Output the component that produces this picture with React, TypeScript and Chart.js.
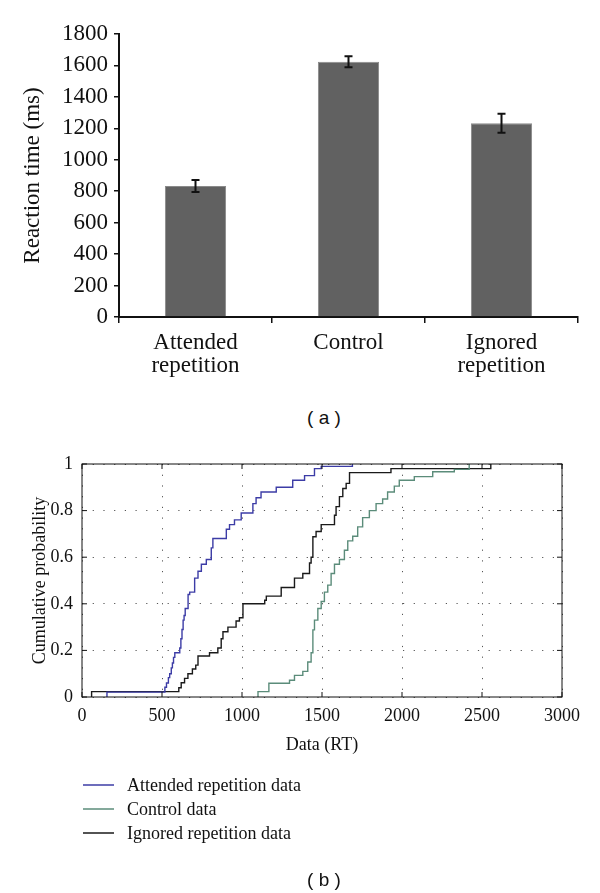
import React, { useEffect, useRef } from 'react';
import { Chart, registerables } from 'chart.js';

Chart.register(...registerables);

// ---------- (a) bar chart data ----------
const barCategories: (string | string[])[] = [['Attended', 'repetition'], 'Control', ['Ignored', 'repetition']];
const barMeans = [833, 1624, 1232];
const barErrors = [38, 35, 60];
const barYTicks = [0, 200, 400, 600, 800, 1000, 1200, 1400, 1600, 1800];

// ---------- (b) empirical CDF data (step points) ----------
const attendedRT = [156, 156, 518, 528, 540, 548, 558, 565, 572, 580, 611, 618, 625, 632, 638, 645, 663, 673, 704, 725, 746, 777, 808, 818, 902, 922, 953, 995, 1068, 1088, 1119, 1214, 1317, 1391, 1453, 1495, 1690];
const attendedP = [0, 0.021, 0.042, 0.06, 0.083, 0.1, 0.125, 0.146, 0.17, 0.19, 0.21, 0.25, 0.29, 0.33, 0.35, 0.38, 0.44, 0.45, 0.51, 0.54, 0.57, 0.59, 0.64, 0.68, 0.72, 0.74, 0.76, 0.79, 0.83, 0.855, 0.88, 0.9, 0.93, 0.95, 0.98, 0.99, 1.0];

const controlRT = [1100, 1100, 1168, 1297, 1328, 1380, 1411, 1432, 1443, 1453, 1474, 1495, 1515, 1536, 1557, 1578, 1609, 1640, 1661, 1692, 1723, 1754, 1796, 1838, 1879, 1910, 1952, 1983, 2077, 2192, 2327, 2420];
const controlP = [0, 0.023, 0.059, 0.072, 0.093, 0.11, 0.15, 0.19, 0.288, 0.33, 0.38, 0.41, 0.45, 0.48, 0.53, 0.57, 0.59, 0.63, 0.67, 0.69, 0.73, 0.77, 0.8, 0.83, 0.85, 0.88, 0.905, 0.93, 0.946, 0.967, 0.977, 1.0];

const ignoredRT = [60, 60, 605, 620, 641, 662, 690, 711, 725, 797, 849, 870, 881, 912, 963, 984, 1006, 1142, 1152, 1245, 1328, 1380, 1422, 1432, 1443, 1463, 1495, 1578, 1588, 1609, 1630, 1651, 1672, 1931, 2555];
const ignoredP = [0, 0.023, 0.04, 0.061, 0.08, 0.1, 0.12, 0.137, 0.176, 0.19, 0.21, 0.25, 0.28, 0.3, 0.326, 0.34, 0.4, 0.415, 0.433, 0.47, 0.51, 0.53, 0.575, 0.6, 0.688, 0.71, 0.74, 0.78, 0.817, 0.86, 0.895, 0.917, 0.963, 0.98, 1.0];

const cdfLabels = ['Attended repetition data', 'Control data', 'Ignored repetition data'];
const cdfColors = ['#3c3ca6', '#5b8c7a', '#1a1a1a'];
const cdfXTicks = [0, 500, 1000, 1500, 2000, 2500, 3000];
const cdfYTicks = [0, 0.2, 0.4, 0.6, 0.8, 1];

const SERIF = "'Liberation Serif', 'Times New Roman', serif";
const A_FONT = 23;
const B_FONT = 18;

const toPts = (xs: number[], ps: number[]) => xs.map((x, i) => ({ x, y: ps[i] }));
const plain = (v: any) => String(Number(Number(v).toFixed(2)));

const errorBarPlugin = {
  id: 'errorBars',
  afterDatasetsDraw(chart: any) {
    const meta = chart.getDatasetMeta(0);
    const y = chart.scales.y;
    const ctx = chart.ctx;
    ctx.save();
    ctx.strokeStyle = '#111';
    ctx.lineWidth = 2;
    meta.data.forEach((bar: any, i: number) => {
      const top = y.getPixelForValue(barMeans[i] + barErrors[i]);
      const bot = y.getPixelForValue(barMeans[i] - barErrors[i]);
      ctx.beginPath();
      ctx.moveTo(bar.x, top);
      ctx.lineTo(bar.x, bot);
      ctx.moveTo(bar.x - 4, top);
      ctx.lineTo(bar.x + 4, top);
      ctx.moveTo(bar.x - 4, bot);
      ctx.lineTo(bar.x + 4, bot);
      ctx.stroke();
    });
    ctx.restore();
  },
};

const boxLegendPlugin = {
  id: 'boxLegend',
  afterDraw(chart: any) {
    const { ctx, chartArea: a, scales } = chart;
    ctx.save();
    ctx.strokeStyle = '#111';
    ctx.lineWidth = 1;
    ctx.strokeRect(a.left, a.top, a.right - a.left, a.bottom - a.top);
    ctx.beginPath();
    cdfXTicks.forEach((v) => {
      const x = scales.x.getPixelForValue(v);
      ctx.moveTo(x, a.bottom);
      ctx.lineTo(x, a.bottom - 5);
      ctx.moveTo(x, a.top);
      ctx.lineTo(x, a.top + 5);
    });
    cdfYTicks.forEach((v) => {
      const y = scales.y.getPixelForValue(v);
      ctx.moveTo(a.left, y);
      ctx.lineTo(a.left + 5, y);
      ctx.moveTo(a.right, y);
      ctx.lineTo(a.right - 5, y);
    });
    ctx.stroke();
    // legend
    ctx.font = `${B_FONT}px ${SERIF}`;
    ctx.textBaseline = 'middle';
    ctx.textAlign = 'left';
    chart.data.datasets.forEach((ds: any, i: number) => {
      const yy = a.bottom + 88 + i * 24;
      ctx.strokeStyle = ds.borderColor;
      ctx.lineWidth = 1.5;
      ctx.beginPath();
      ctx.moveTo(a.left + 1, yy);
      ctx.lineTo(a.left + 32, yy);
      ctx.stroke();
      ctx.fillStyle = '#111';
      ctx.fillText(ds.label, a.left + 45, yy + 1);
    });
    ctx.restore();
  },
};

export default function App() {
  const aRef = useRef<HTMLCanvasElement>(null);
  const bRef = useRef<HTMLCanvasElement>(null);

  useEffect(() => {
    const c1 = new Chart(aRef.current!, {
      type: 'bar',
      data: {
        labels: barCategories as any,
        datasets: [
          {
            data: barMeans,
            backgroundColor: '#616161',
            borderColor: '#8a8a8a',
            borderWidth: 1,
            barPercentage: 0.4,
            categoryPercentage: 1,
          },
        ],
      },
      options: {
        responsive: false,
        animation: false,
        layout: { padding: { top: 34, right: 22, left: 0, bottom: 0 } },
        plugins: { legend: { display: false }, tooltip: { enabled: false } },
        scales: {
          x: {
            grid: { offset: true, drawOnChartArea: false, drawTicks: true, tickLength: 6, color: '#111', lineWidth: 1.5 },
            border: { display: true, color: '#111', width: 2 },
            ticks: { font: { family: SERIF, size: A_FONT, lineHeight: 1.0 }, color: '#111', padding: 8, maxRotation: 0 },
            afterFit: (s: any) => { s.height = 83; },
          },
          y: {
            min: 0,
            max: 1800,
            afterBuildTicks: (s: any) => { s.ticks = barYTicks.map((v) => ({ value: v })); },
            grid: { drawOnChartArea: false, drawTicks: true, tickLength: 5, color: '#111', lineWidth: 1.5 },
            border: { display: true, color: '#111', width: 2 },
            ticks: { font: { family: SERIF, size: A_FONT }, color: '#111', padding: 6, callback: plain },
            title: { display: true, text: 'Reaction time (ms)', font: { family: SERIF, size: A_FONT }, color: '#111', padding: { top: 19, bottom: 0 } },
            afterFit: (s: any) => { s.width = 119; },
          },
        },
      },
      plugins: [errorBarPlugin],
    });

    const series = [toPts(attendedRT, attendedP), toPts(controlRT, controlP), toPts(ignoredRT, ignoredP)];
    const c2 = new Chart(bRef.current!, {
      type: 'line',
      data: {
        datasets: series.map((pts, i) => ({
          label: cdfLabels[i],
          data: pts,
          borderColor: cdfColors[i],
          borderWidth: 1.4,
          pointRadius: 0,
          fill: false,
          stepped: 'before' as const,
          clip: 3,
        })),
      },
      options: {
        responsive: false,
        animation: false,
        layout: { padding: { top: 24, right: 38, left: 0, bottom: 0 } },
        plugins: { legend: { display: false }, tooltip: { enabled: false } },
        scales: {
          x: {
            type: 'linear',
            min: 0,
            max: 3000,
            afterBuildTicks: (s: any) => { s.ticks = cdfXTicks.map((v) => ({ value: v })); },
            grid: { drawOnChartArea: true, drawTicks: false, color: '#555', lineWidth: 1 },
            border: { display: false, dash: [1.2, 9.5] },
            ticks: { font: { family: SERIF, size: B_FONT }, color: '#111', padding: 8, callback: plain },
            title: { display: true, text: 'Data (RT)', font: { family: SERIF, size: B_FONT }, color: '#111', padding: { top: 0, bottom: 137 } },
            afterFit: (s: any) => { s.height = 196; },
          },
          y: {
            type: 'linear',
            min: 0,
            max: 1,
            afterBuildTicks: (s: any) => { s.ticks = cdfYTicks.map((v) => ({ value: v })); },
            grid: { drawOnChartArea: true, drawTicks: false, color: '#555', lineWidth: 1 },
            border: { display: false, dash: [1.2, 9.5] },
            ticks: { font: { family: SERIF, size: B_FONT }, color: '#111', padding: 9, callback: plain },
            title: { display: true, text: 'Cumulative probability', font: { family: SERIF, size: B_FONT }, color: '#111', padding: { top: 29, bottom: 0 } },
            afterFit: (s: any) => { s.width = 82; },
          },
        },
      },
      plugins: [boxLegendPlugin],
    });

    return () => {
      c1.destroy();
      c2.destroy();
    };
  }, []);

  const capStyle: React.CSSProperties = {
    position: 'absolute',
    left: 24,
    width: 600,
    textAlign: 'center',
    font: "19px 'Liberation Sans', Arial, sans-serif",
    color: '#111',
    lineHeight: '22px',
    whiteSpace: 'pre',
  };

  return (
    <div style={{ position: 'absolute', left: 0, top: 0, width: 600, height: 893, background: '#fff' }}>
      <canvas ref={aRef} width={600} height={400} style={{ position: 'absolute', left: 0, top: 0 }} />
      <div style={{ ...capStyle, top: 407 }}>( a )</div>
      <canvas ref={bRef} width={600} height={453} style={{ position: 'absolute', left: 0, top: 440 }} />
      <div style={{ ...capStyle, top: 869 }}>( b )</div>
    </div>
  );
}
